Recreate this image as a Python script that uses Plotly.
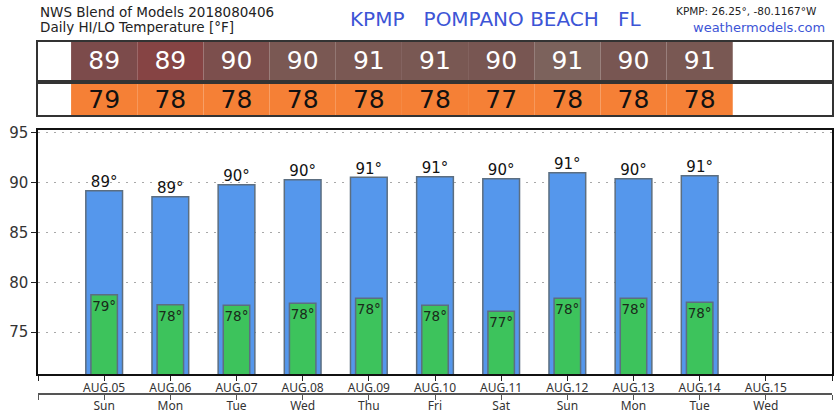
import plotly.graph_objects as go

# daily highs / lows (bar heights, deg F)
dates = ["AUG.05", "AUG.06", "AUG.07", "AUG.08", "AUG.09", "AUG.10",
         "AUG.11", "AUG.12", "AUG.13", "AUG.14", "AUG.15"]
days = ["Sun", "Mon", "Tue", "Wed", "Thu", "Fri", "Sat", "Sun", "Mon", "Tue", "Wed"]
hi_temp = [89.2, 88.6, 89.8, 90.3, 90.55, 90.6, 90.4, 91.0, 90.4, 90.7]
lo_temp = [78.75, 77.75, 77.7, 77.9, 78.4, 77.7, 77.1, 78.4, 78.4, 78.0]

hi_cell_colors = ["#7c4b4b", "#864444", "#7c4f4d", "#7a5853", "#7a5853",
                  "#795853", "#785652", "#7c625c", "#785652", "#795853"]
lo_cell_color = "#f58036"

FONT = "DejaVu Sans"
idx = list(range(len(hi_temp)))
hi_lbl = [str(int(v + 0.5)) for v in hi_temp]
lo_lbl = [str(int(v + 0.5)) for v in lo_temp]

tick_pos = list(range(-1, len(dates) + 1))
date_ticks = [""] + dates + [""]
day_ticks = [""] + days + [""]

fig = go.Figure()

# main chart bars
fig.add_trace(go.Bar(x=idx, y=hi_temp, width=0.555, marker_color="#5597ec",
                     marker_line=dict(color="#5c6e80", width=1.5), xaxis="x", yaxis="y"))
fig.add_trace(go.Bar(x=idx, y=lo_temp, width=0.4, marker_color="#3dc35c",
                     marker_line=dict(color="#5c6e80", width=1.5),
                     text=[t + "°" for t in lo_lbl], textposition="inside",
                     insidetextanchor="end", constraintext="none", textangle=0,
                     insidetextfont=dict(family=FONT, size=13.5, color="#1a2a1a"),
                     xaxis="x", yaxis="y"))
fig.add_trace(go.Scatter(x=idx, y=hi_temp, mode="text", text=[t + "°" for t in hi_lbl],
                         textposition="top center", cliponaxis=False,
                         textfont=dict(family=FONT, size=15, color="#111")))
# hidden trace so the weekday axis gets drawn
fig.add_trace(go.Scatter(x=idx, y=lo_temp, mode="markers", marker_opacity=0,
                         hoverinfo="skip", xaxis="x4", yaxis="y"))

# table rows
fig.add_trace(go.Bar(x=idx, y=[1] * len(idx), width=1, marker_color=hi_cell_colors,
                     marker_line_width=0, text=hi_lbl, textposition="inside",
                     insidetextanchor="middle", constraintext="none",
                     textfont=dict(family=FONT, size=25, color="white"),
                     xaxis="x2", yaxis="y2"))
fig.add_trace(go.Bar(x=idx, y=[1] * len(idx), width=1, marker_color=lo_cell_color,
                     marker_line_width=0, text=lo_lbl, textposition="inside",
                     insidetextanchor="middle", constraintext="none",
                     textfont=dict(family=FONT, size=25, color="#111"),
                     xaxis="x3", yaxis="y3"))

frame = dict(range=[-1, 11], showline=True, mirror=True, linecolor="#333",
             linewidth=1.5, showticklabels=False, ticks="", showgrid=False,
             zeroline=False, fixedrange=True, automargin=False)
yframe = dict(range=[0, 1], showline=True, mirror=True, linecolor="#333",
              linewidth=1.5, showticklabels=False, ticks="", showgrid=False,
              zeroline=False, automargin=False)

fig.update_layout(
    width=840, height=420,
    margin=dict(l=38, r=8, t=40, b=14),
    paper_bgcolor="white", plot_bgcolor="white",
    barmode="overlay", showlegend=False,
    font=dict(family=FONT, color="#222"),
    xaxis=dict(range=[-1, 11], domain=[0, 1], anchor="y", tickvals=tick_pos,
               ticktext=date_ticks, ticks="outside", ticklen=5, tickcolor="#222",
               ticklabelstandoff=-3,
               showline=True, mirror=True, linecolor="#111", linewidth=1.5,
               showgrid=False, zeroline=False, automargin=False,
               tickfont=dict(family="Noto Sans", size=12, color="#333")),
    xaxis4=dict(range=[-1, 11], overlaying="x", anchor="free", position=0.0328,
                side="bottom", tickvals=tick_pos, ticktext=day_ticks,
                ticks="outside", ticklen=5, tickcolor="#555", showline=True,
                ticklabelstandoff=-4,
                linecolor="#555", linewidth=1.5, showgrid=False, zeroline=False,
                automargin=False,
                tickfont=dict(family="Noto Sans", size=12, color="#333")),
    yaxis=dict(range=[70.8, 95.3], domain=[0.0874, 0.7541], anchor="x",
               tickvals=[75, 80, 85, 90, 95], ticks="outside", ticklen=5,
               tickcolor="#222", showline=True, mirror=True, linecolor="#111",
               linewidth=1.5, showgrid=True, gridcolor="#a8a8a8", griddash="2px,6px",
               gridwidth=1, zeroline=False, automargin=False,
               tickfont=dict(family=FONT, size=15, color="#333")),
    xaxis2=dict(frame, anchor="y2"),
    yaxis2=dict(yframe, domain=[0.8907, 0.9954], anchor="x2"),
    xaxis3=dict(frame, anchor="y3"),
    yaxis3=dict(yframe, domain=[0.7951, 0.8811], anchor="x3"),
)

fig.add_annotation(x=0, y=1.0765, xref="paper", yref="paper", xanchor="left",
                   yanchor="middle", showarrow=False, text="NWS Blend of Models 2018080406",
                   font=dict(family=FONT, size=13.5, color="#222"))
fig.add_annotation(x=0, y=1.0355, xref="paper", yref="paper", xanchor="left",
                   yanchor="middle", showarrow=False, text="Daily HI/LO Temperature [°F]",
                   font=dict(family=FONT, size=13.5, color="#222"))
fig.add_annotation(x=0.5756, y=1.058, xref="paper", yref="paper", xanchor="center",
                   yanchor="middle", showarrow=False,
                   text="KPMP&nbsp;&nbsp;&nbsp;POMPANO BEACH&nbsp;&nbsp;&nbsp;FL",
                   font=dict(family=FONT, size=20, color="#3d55d6"))
fig.add_annotation(x=0.9836, y=1.079, xref="paper", yref="paper", xanchor="right",
                   yanchor="middle", showarrow=False, text="KPMP: 26.25°, -80.1167°W",
                   font=dict(family=FONT, size=10.5, color="#222"))
fig.add_annotation(x=0.9937, y=1.0355, xref="paper", yref="paper", xanchor="right",
                   yanchor="middle", showarrow=False, text="weathermodels.com",
                   font=dict(family=FONT, size=13, color="#3d55d6"))

# drop the default body margin so the figure sits at the window corner
fig.write_html("out.html", config={"displayModeBar": False},
               post_script="document.body.style.margin='0';")
